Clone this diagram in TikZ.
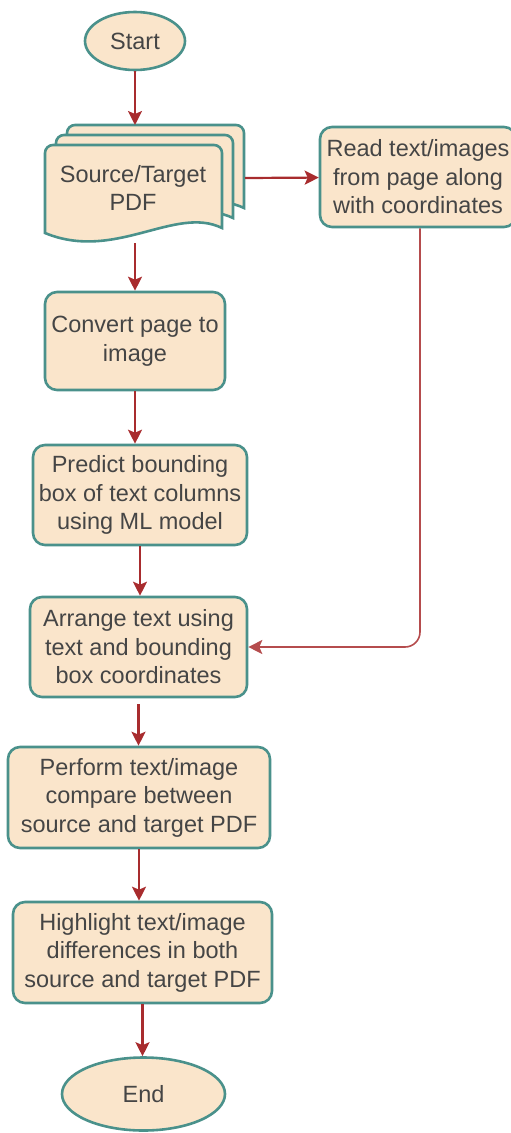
\documentclass[tikz,border=0pt]{standalone}
\usepackage{fontspec}
\setmainfont{Liberation Sans}
\usepackage{xcolor}
\usepackage{tikz}
\usetikzlibrary{arrows.meta, shapes.geometric}

\definecolor{peach}{HTML}{FAE5CB}
\definecolor{tealline}{HTML}{4A918B}
\definecolor{flowred}{HTML}{A82C2E}
\definecolor{textgray}{HTML}{454545}

\begin{document}
\begin{tikzpicture}[x=1pt, y=-1pt,
    every node/.style={font=\fontsize{23.5}{28.5}\selectfont, text=textgray, align=center},
    stepbox/.style={draw=tealline, fill=peach, line width=2.6pt, rounded corners=12pt, inner sep=0pt},
    terminal/.style={draw=tealline, fill=peach, line width=2.6pt, ellipse, inner sep=0pt},
    docpage/.style={draw=tealline, fill=peach, line width=2.6pt},
    flow/.style={draw=flowred, line width=2.2pt, -{Stealth[length=14pt, width=14pt, inset=3pt]}}]

    \useasboundingbox (0,0) rectangle (511,1133);

    % start and end
    \node[terminal, minimum width=100pt, minimum height=58pt] (start) at (135,41) {Start};
    \node[terminal, minimum width=163pt, minimum height=73pt] (end) at (143.5,1094) {End};

    % stacked pdf pages
    \foreach \dx/\dy in {22/20, 11/10, 0/0}
        \filldraw[docpage, shift={(\dx,-\dy)}]
            (45,233) [rounded corners=8pt] -- (45,145) -- (222,145) [sharp corners] -- (222,228)
            .. controls (175,205) and (115,262) .. (45,233) -- cycle;

    \node[minimum width=177pt, minimum height=95pt, inner sep=0pt] (pdf) at (133,188) {Source/Target\\PDF};
    \coordinate (pdftop) at (135,125);
    \coordinate (pdfright) at (245,178);
    \coordinate (pdfbottom) at (135,243);

    % process boxes
    \node[stepbox, minimum width=196pt, minimum height=100pt] (read) at (418,177) {Read text/images\\from page along\\with coordinates};
    \node[stepbox, minimum width=180pt, minimum height=98pt] (convert) at (135,341) {Convert page to\\image};
    \node[stepbox, minimum width=214pt, minimum height=100pt] (predict) at (140,495) {Predict bounding\\box of text columns\\using ML model};
    \node[stepbox, minimum width=217pt, minimum height=100pt] (arrange) at (138.5,647) {Arrange text using\\text and bounding\\box coordinates};
    \node[stepbox, minimum width=262pt, minimum height=101pt] (perform) at (139,797.5) {Perform text/image\\compare between\\source and target PDF};
    \node[stepbox, minimum width=259pt, minimum height=101pt] (highlight) at (142.5,952.5) {Highlight text/image\\differences in both\\source and target PDF};

    % connectors
    \draw[flow] (start) -- (pdftop);
    \draw[flow] (pdfright) -- (read);
    \draw[flow] (pdfbottom) -- (convert);
    \draw[flow] (convert) -- (convert |- predict.north);
    \draw[flow] (predict.south) -- (predict.south |- arrange.north);
    \draw[flow] ([yshift=-6pt]arrange.south) -- (arrange.south |- perform.north);
    \draw[flow] (perform.south) -- (perform.south |- highlight.north);
    \draw[flow] (highlight.south) -- (highlight.south |- end.north);
    \draw[flow, draw=flowred!85!white, line width=1.6pt, rounded corners=15pt]
        ([xshift=2pt]read.south) -- ([xshift=2pt]read.south |- arrange.east) -- (arrange.east);

\end{tikzpicture}
\end{document}
